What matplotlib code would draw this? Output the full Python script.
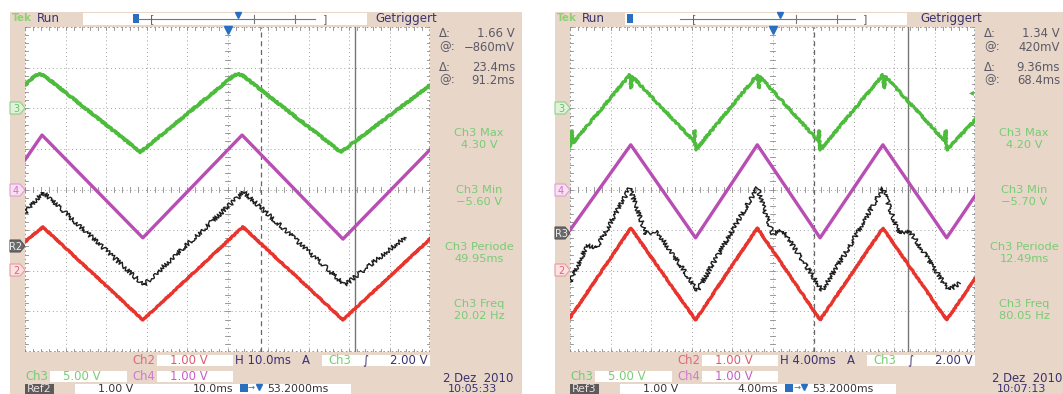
import matplotlib.pyplot as plt
from matplotlib.patches import Rectangle, Polygon

W, H = 1063, 394

# --- trace vertices: time in ms from left graticule edge, level in divisions ---
# screen A: 10 ms/div, 20 Hz triangle
a_ch3_t = [0, 2.5, 3.5, 4.8, 28.5, 51.5, 52.5, 53.8, 78.0, 100]
a_ch3_v = [2.57, 2.80, 2.85, 2.80, 0.92, 2.80, 2.85, 2.80, 0.92, 2.57]
a_ch4_t = [0, 4.2, 29.1, 53.6, 78.5, 100]
a_ch4_v = [0.73, 1.34, -1.19, 1.34, -1.22, 0.98]
a_ch2_t = [0, 4.4, 29.1, 53.8, 78.5, 100]
a_ch2_v = [-1.29, -0.92, -3.21, -0.92, -3.21, -1.22]
a_ref_t = [0, 4.4, 29.3, 54.0, 79.0, 93.9]
a_ref_v = [-0.58, -0.06, -2.35, -0.06, -2.35, -1.17]

# screen B: 4 ms/div, 80 Hz triangle (Ch3 shows glitches at each turn)
b_ch3_t = [0, 0.15, 0.3, 5.9, 6.05, 6.15, 12.2, 12.3, 12.4, 18.5, 18.65, 18.75,
           24.5, 24.6, 24.7, 30.9, 31.05, 31.15, 37.0, 37.1, 37.2, 40]
b_ch3_v = [1.05, 1.45, 1.15, 2.82, 2.50, 2.78, 1.20, 1.45, 0.97, 2.82, 2.50, 2.78,
           1.20, 1.45, 0.97, 2.82, 2.50, 2.78, 1.20, 1.45, 0.97, 1.71]
b_ch4_t = [0, 6.0, 12.4, 18.5, 24.7, 30.9, 37.2, 40]
b_ch4_v = [-1.00, 1.10, -1.19, 1.10, -1.19, 1.10, -1.19, -0.16]
b_ch2_t = [0, 6.0, 12.4, 18.5, 24.7, 30.9, 37.2, 40]
b_ch2_v = [-3.16, -0.95, -3.21, -0.95, -3.21, -0.95, -3.21, -2.20]
b_ref_t = [0, 1.7, 2.6, 5.9, 7.5, 8.5, 12.6, 15.0, 18.5, 20.0, 21.0, 24.9, 27.5, 30.9, 32.5, 33.5, 37.4, 38.5]
b_ref_v = [-2.28, -1.37, -1.45, 0.04, -1.10, -1.00, -2.48, -1.45, 0.04, -1.10, -1.00, -2.48, -1.45, 0.04, -1.10, -1.00, -2.48, -2.30]

# readouts
a_side = ["1.66 V", "\u2212860mV", "23.4ms", "91.2ms"]
a_meas = [("Ch3 Max", "4.30 V"), ("Ch3 Min", "\u22125.60 V"),
          ("Ch3 Periode", "49.95ms"), ("Ch3 Freq", "20.02 Hz")]
b_side = ["1.34 V", "420mV", "9.36ms", "68.4ms"]
b_meas = [("Ch3 Max", "4.20 V"), ("Ch3 Min", "\u22125.70 V"),
          ("Ch3 Periode", "12.49ms"), ("Ch3 Freq", "80.05 Hz")]

BEIGE = "#e8d6c9"
DARK = "#3b3270"
GRAY = "#5a5a66"
GREEN_TXT = "#78cc74"
C3, C4, C2, CREF = "#4dbb3c", "#b84eb4", "#e8342c", "#1e1e1e"

fig = plt.figure(figsize=(W / 100, H / 100), dpi=100)
plt.rcParams["font.family"] = "DejaVu Sans"
bg = fig.add_axes([0, 0, 1, 1])
bg.set_xlim(0, W)
bg.set_ylim(H, 0)
bg.axis("off")


def txt(x, y, s, c=DARK, size=8.2, ha="left", **kw):
    bg.text(x, y, s, color=c, fontsize=size, ha=ha, va="center", **kw)


def box(x0, x1, y0, y1, fc="white"):
    bg.add_patch(Rectangle((x0, y0), x1 - x0, y1 - y0, fc=fc, ec="none"))


def chan_tag(x, y, s, fc, ec, tc):
    pts = [(x, y - 6), (x + 10, y - 6), (x + 15, y), (x + 10, y + 6), (x, y + 6)]
    bg.add_patch(Polygon(pts, closed=True, fc=fc, ec=ec, lw=0.8))
    bg.text(x + 6, y + 0.5, s, color=tc, fontsize=7, ha="center", va="center")


def screen(ox, gx, ms_div, traces, cursors, side, meas, tags, hdiv, refname,
           date, clock, top, tmark, date_dx=0):
    # panel frame
    box(ox, ox + 512, 12, H, BEIGE)

    # header
    txt(ox + 2, 18, "Tek", c="#8fd070", size=7.5, weight="bold")
    txt(ox + 27, 18, "Run", size=8.6)
    wb0, wb1 = top
    box(wb0, wb1, 13, 25)
    bg.plot([wb0 + 55, wb1 - 52], [19, 19], color="#777", lw=0.8)
    bg.text(wb0 + 69, 19, "[", color="#666", fontsize=8, ha="center", va="center")
    bg.text(wb1 - 42, 19, "]", color="#666", fontsize=8, ha="center", va="center")
    for xt in (wb0 + 171, wb0 + 212):
        bg.plot([xt, xt], [15, 23], color="#777", lw=0.8)
    bg.plot([wb0 + 155], [14.5], marker="v", color="#2a6ec0", ms=4)
    bg.add_patch(Rectangle((wb0 + tmark, 14), 6, 9, fc="#2a6ec0", ec="none"))
    txt(gx + 350, 18, "Getriggert", size=8.6)

    # graticule
    ax = fig.add_axes([gx / W, (H - 352) / H, 405 / W, 325 / H])
    ax.set_xlim(0, 10 * ms_div)
    ax.set_ylim(-4, 4)
    ax.set_xticks([])
    ax.set_yticks([])
    for s in ax.spines.values():
        s.set_visible(False)
    for k in range(1, 10):
        ax.axvline(k * ms_div, color="#a0a0a0", lw=0.7, ls=(0, (1, 3)), zorder=1)
    for k in range(-3, 4):
        ax.axhline(k, color="#a0a0a0", lw=0.7, ls=(0, (1, 3)), zorder=1)
    for y in (-4, 4):
        ax.axhline(y, color="#8a8a8a", lw=1.2, ls=(0, (1, 1.5)), zorder=1)
    for x in (0, 10 * ms_div):
        ax.axvline(x, color="#8a8a8a", lw=1.2, ls=(0, (1, 1.5)), zorder=1)
    # minor ticks on centre lines and border
    for i in range(51):
        xm = i * ms_div / 5
        for yc, h in ((0, 0.06), (-4, 0.08), (4, 0.08)):
            ax.plot([xm, xm], [yc - h, yc + h], color="#8a8a8a", lw=0.6, zorder=1)
    for i in range(41):
        ym = -4 + i / 5
        for xc, h in ((5 * ms_div, 0.06 * ms_div), (0, 0.08 * ms_div), (10 * ms_div, 0.08 * ms_div)):
            ax.plot([xc - h, xc + h], [ym, ym], color="#8a8a8a", lw=0.6, zorder=1)

    # cursors
    ax.axvline(cursors[0], color="#666", lw=0.9, ls=(0, (4, 3)), zorder=2)
    ax.axvline(cursors[1], color="#777", lw=1.0, zorder=2)

    for t, v, c, lw, noisy in traces:
        ln, = ax.plot(t, v, color=c, lw=lw, solid_joinstyle="round", zorder=3)
        if noisy:
            ln.set_sketch_params(scale=noisy, length=2.0, randomness=6)

    # trigger markers
    ax.plot([5 * ms_div], [3.93], marker="v", color="#2a6ec0", ms=6, clip_on=False, zorder=5)
    bg.add_patch(Polygon([(gx + 2, 38), (gx + 6, 33), (gx + 15, 33), (gx + 15, 43), (gx + 6, 43)],
                         fc="#2a6ec0", ec="none"))
    bg.text(gx + 10, 38, "T", color="white", fontsize=6, ha="center", va="center", weight="bold")

    # channel tags
    for y, s, fc, ec, tc in tags:
        chan_tag(ox, y, s, fc, ec, tc)

    # side readouts
    sx = gx + 405
    rows = [(33, "\u0394:"), (47, "@:"), (67, "\u0394:"), (80, "@:")]
    for (y, lab), val in zip(rows, side):
        txt(sx + 9, y, lab, c=GRAY, size=8.4)
        txt(sx + 85, y, val, c=GRAY, size=8.4, ha="right")
    for k, (l1, l2) in enumerate(meas):
        y = 133 + 57 * k
        txt(sx + 49, y, l1, c=GREEN_TXT, size=8.2, ha="center")
        txt(sx + 49, y + 12, l2, c=GREEN_TXT, size=8.2, ha="center")

    # bottom status rows
    b = gx
    txt(b + 107, 360, "Ch2", c="#e06a7e", size=8.4)
    box(b + 132, b + 208, 355, 366)
    txt(b + 145, 360, "1.00 V", c="#e05a6e", size=8.4)
    txt(b + 210, 360, hdiv, size=8.4)
    txt(b + 277, 360, "A", size=8.4)
    box(b + 297, b + 405, 355, 366)
    txt(b + 303, 360, "Ch3", c=GREEN_TXT, size=8.4)
    txt(b + 337, 360, "\u222b", size=8.4)
    txt(b + 403, 360, "2.00 V", size=8.4, ha="right")

    txt(b, 376, "Ch3", c=GREEN_TXT, size=8.4)
    box(b + 25, b + 102, 371, 382)
    txt(b + 38, 376, "5.00 V", c=GREEN_TXT, size=8.4)
    txt(b + 107, 376, "Ch4", c="#d27ad0", size=8.4)
    box(b + 132, b + 208, 371, 382)
    txt(b + 145, 376, "1.00 V", c="#c95cc8", size=8.4)

    yr = 388.5
    box(b, b + 29, 384, 396, "#5f5a5a")
    txt(b + 2, yr, refname, c="#e8e0e0", size=7.8)
    box(b + 50, b + 326, 384, 396)
    txt(b + 108, yr, "1.00 V", c="#333", size=7.8, ha="right")
    txt(b + 208, yr, "%.1fms" % ms_div if ms_div >= 10 else "%.2fms" % ms_div,
        c="#333", size=7.8, ha="right")
    bg.add_patch(Rectangle((b + 215, 384), 8, 8, fc="#2a6ec0", ec="none"))
    txt(b + 223, yr - 1, "\u2192", c="#2a6ec0", size=6)
    bg.plot([b + 234], [387], marker="v", color="#2a6ec0", ms=4)
    txt(b + 242, yr, "53.2000ms", c="#333", size=7.8)

    txt(sx + 13 + date_dx, 378, date, c=DARK, size=8.4)
    txt(sx + 67 + date_dx, 389.5, clock, c=DARK, size=8.0, ha="right")
    return ax


tag_a = [(108, "3", "#dff3da", "#8fd08a", "#6cc064"),
         (190, "4", "#f7e0f0", "#e49ad8", "#d070c8"),
         (246, "R2", "#6a6a6a", "#555", "#eeeeee"),
         (270, "2", "#fbe2e2", "#eb9a9a", "#e0607a")]
tag_b = [(108, "3", "#dff3da", "#8fd08a", "#6cc064"),
         (190, "4", "#f7e0f0", "#e49ad8", "#d070c8"),
         (233, "R3", "#6a6a6a", "#555", "#eeeeee"),
         (270, "2", "#fbe2e2", "#eb9a9a", "#e0607a")]

screen(10, 25, 10.0,
       [(a_ch3_t, a_ch3_v, C3, 2.6, 0.6), (a_ch4_t, a_ch4_v, C4, 2.4, 0),
        (a_ref_t, a_ref_v, CREF, 1.0, 2.2), (a_ch2_t, a_ch2_v, C2, 2.4, 0.4)],
       (58.3, 81.5), a_side, a_meas, tag_a, "H 10.0ms", "Ref2",
       "2 Dez  2010", "10:05:33", (83, 367), 50)

ax_b = screen(555, 570, 4.0,
              [(b_ch3_t, b_ch3_v, C3, 2.2, 0.8), (b_ch4_t, b_ch4_v, C4, 2.4, 0),
               (b_ref_t, b_ref_v, CREF, 1.0, 2.2), (b_ch2_t, b_ch2_v, C2, 2.4, 0.4)],
              (24.1, 33.4), b_side, b_meas, tag_b, "H 4.00ms", "Ref3",
              "2 Dez  2010", "10:07:13", (625, 907), 2, date_dx=4)
# Ch3 trigger-level arrow at the right edge of screen B
ax_b.text(39.6, 2.4, "\u25c2", color=C3, fontsize=7, ha="center", va="center", zorder=4)

fig.savefig("out.png", dpi=100, facecolor="white")
